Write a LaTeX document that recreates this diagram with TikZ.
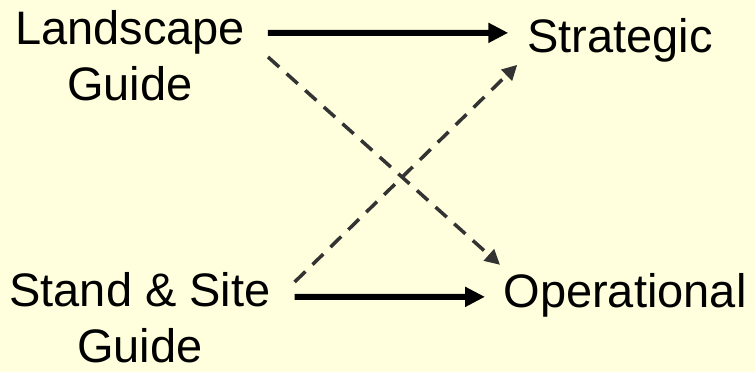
\documentclass[tikz,border=0pt]{standalone}
\usepackage{fontspec}
\setmainfont{Liberation Sans}
\usetikzlibrary{arrows.meta}
\definecolor{bgyellow}{RGB}{255,255,221}
\definecolor{dashgray}{RGB}{51,51,51}
\begin{document}
\begin{tikzpicture}[x=1pt,y=1pt,
  lbl/.style={font=\fontsize{47}{56}\selectfont, align=center, inner sep=0pt, outer sep=0pt},
  solidarrow/.style={line width=6pt, -{Triangle[length=20pt,width=19pt]}},
  dasharrow/.style={line width=3.5pt, draw=dashgray, dash pattern=on 15pt off 10pt, -{Triangle[length=15pt,width=15pt]}}]
\fill[bgyellow] (0,0) rectangle (755,372);
\useasboundingbox (0,0) rectangle (755,372);
\node[lbl, anchor=center] (land) at (130,316) {Landscape\\Guide};
\node[lbl, anchor=base] (strat) at (620,319) {Strategic};
\node[lbl, anchor=center] (stand) at (140,54) {Stand \& Site\\Guide};
\node[lbl, anchor=base] (oper) at (625,64) {Operational};
\draw[solidarrow] ([shift={(23,23)}]land.east) -- ([shift={(-19,8)}]strat.west);
\draw[solidarrow] ([shift={(24,21)}]stand.east) -- ([shift={(-18.5,-1)}]oper.west);
\draw[dasharrow] ([shift={(23,-1)}]land.east) -- ([shift={(-3.5,31)}]oper.west);
\draw[dasharrow] ([shift={(24,36)}]stand.east) -- ([shift={(-10,-24)}]strat.west);
\end{tikzpicture}
\end{document}
